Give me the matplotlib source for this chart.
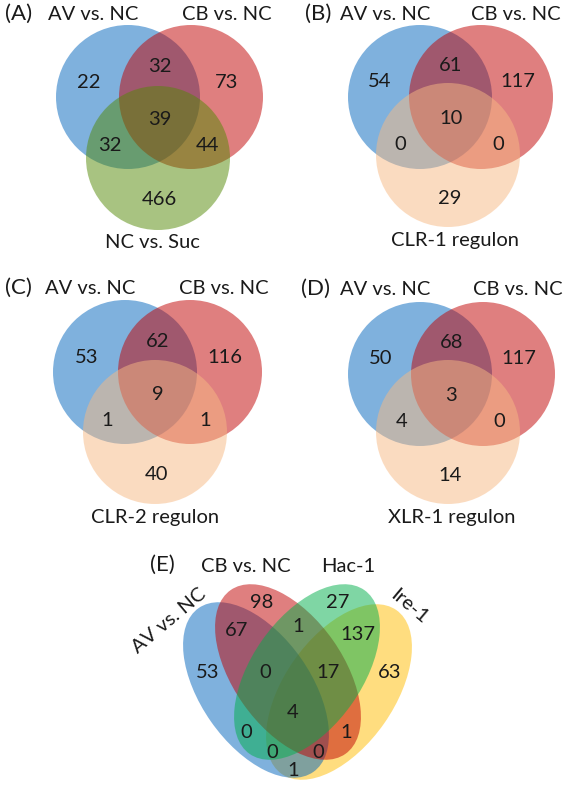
import matplotlib
matplotlib.use("Agg")
import matplotlib.pyplot as plt
from matplotlib.patches import Circle, Ellipse

plt.rcParams['font.family'] = ['Lato', 'DejaVu Sans']

# region order for 3-set panels: only1, only2, only3, 1&2, 1&3, 2&3, all
counts_a = [22, 73, 466, 32, 32, 44, 39]
counts_b = [54, 117, 29, 61, 0, 0, 10]
counts_c = [53, 116, 40, 62, 1, 1, 9]
counts_d = [50, 117, 14, 68, 4, 0, 3]
third_set = ['NC vs. Suc', 'CLR-1 regulon', 'CLR-2 regulon', 'XLR-1 regulon']

# panel E (4 sets)
sets_e = ['AV vs. NC', 'CB vs. NC', 'Hac-1', 'Ire-1']
counts_e = [53, 98, 27, 63, 67, 1, 137, 0, 17, 4, 0, 1, 0, 0, 1]

BLUE = '#0065BD'
RED = '#C10000'
OLIVE = '#538905'
PEACH = '#F7B983'
GREEN = '#00AF4B'
YELLOW = '#FFBD00'
TXT = '#1a1a1a'
NUM_FS = 14.5
LAB_FS = 14.5

fig = plt.figure(figsize=(5.66, 7.88), dpi=100)
ax = fig.add_axes([0, 0, 1, 1])
ax.set_xlim(0, 566)
ax.set_ylim(788, 0)
ax.set_aspect('equal')
ax.axis('off')

# offsets of the region numbers from the centroid of the three circles
offsets = [(-70, -35), (68, -35), (0, 82), (1, -51), (-49, 28), (49, 28), (1, 2)]


def venn3(tag, centers, counts, third, third_color, tag_x, lab_x, lab_y):
    r = 72
    for (cx, cy), col in zip(centers, [BLUE, RED, third_color]):
        ax.add_patch(Circle((cx, cy), r, facecolor=col, alpha=0.5, lw=0))
    gx = sum(c[0] for c in centers) / 3
    gy = sum(c[1] for c in centers) / 3
    for n, (dx, dy) in zip(counts, offsets):
        ax.text(gx + dx, gy + dy, str(n), ha='center', va='center',
                fontsize=NUM_FS, color=TXT)
    ax.text(tag_x, lab_y[0], tag, ha='center', va='center', fontsize=16,
            color=TXT)
    ax.text(lab_x[0], lab_y[0], 'AV vs. NC', ha='center', va='center',
            fontsize=LAB_FS, color=TXT)
    ax.text(lab_x[1], lab_y[0], 'CB vs. NC', ha='center', va='center',
            fontsize=LAB_FS, color=TXT)
    ax.text(lab_x[2], lab_y[1], third, ha='center', va='center',
            fontsize=LAB_FS, color=TXT)


venn3('(A)', [(128, 97), (191, 97), (158, 158)], counts_a, third_set[0], OLIVE,
      19, (93, 227, 152), (14, 242))
venn3('(B)', [(420, 97), (481, 97), (448, 155)], counts_b, third_set[1], PEACH,
      318, (385, 516, 455), (14, 240))
venn3('(C)', [(125, 372), (190, 372), (155, 432)], counts_c, third_set[2], PEACH,
      18, (90, 224, 155), (288, 517))
venn3('(D)', [(420, 374), (483, 374), (448, 432)], counts_d, third_set[3], PEACH,
      315, (385, 518, 452), (289, 517))

# panel E: four ellipses, drawn yellow, blue, red, green
ell = {
    'Ire-1': ((339, 692), 35, YELLOW),
    'AV vs. NC': ((256, 690), -35, BLUE),
    'CB vs. NC': ((288, 672), -35, RED),
    'Hac-1': ((307, 672), 35, GREEN),
}
for name in ['Ire-1', 'AV vs. NC', 'CB vs. NC', 'Hac-1']:
    (cx, cy), ang, col = ell[name]
    ax.add_patch(Ellipse((cx, cy), 110, 200, angle=ang, facecolor=col,
                         alpha=0.5, lw=0))

pos_e = [(208, 673), (262, 602), (338, 602), (390, 673), (237, 630),
         (298, 627), (358, 635), (265, 673), (328, 673), (293, 713),
         (246, 732), (346, 732), (272, 752), (318, 752), (293, 770)]
for n, (x, y) in zip(counts_e, pos_e):
    ax.text(x, y, str(n), ha='center', va='center', fontsize=NUM_FS, color=TXT)

ax.text(162, 565, '(E)', ha='center', va='center', fontsize=16, color=TXT)
ax.text(246, 566, sets_e[1], ha='center', va='center', fontsize=LAB_FS,
        color=TXT)
ax.text(348, 566, sets_e[2], ha='center', va='center', fontsize=LAB_FS,
        color=TXT)
ax.text(169, 621, sets_e[0], ha='center', va='center', fontsize=LAB_FS,
        rotation=40, color=TXT, rotation_mode='anchor')
ax.text(409, 607, sets_e[3], ha='center', va='center', fontsize=LAB_FS,
        rotation=-40, color=TXT, rotation_mode='anchor')

fig.savefig('out.png', dpi=100)
